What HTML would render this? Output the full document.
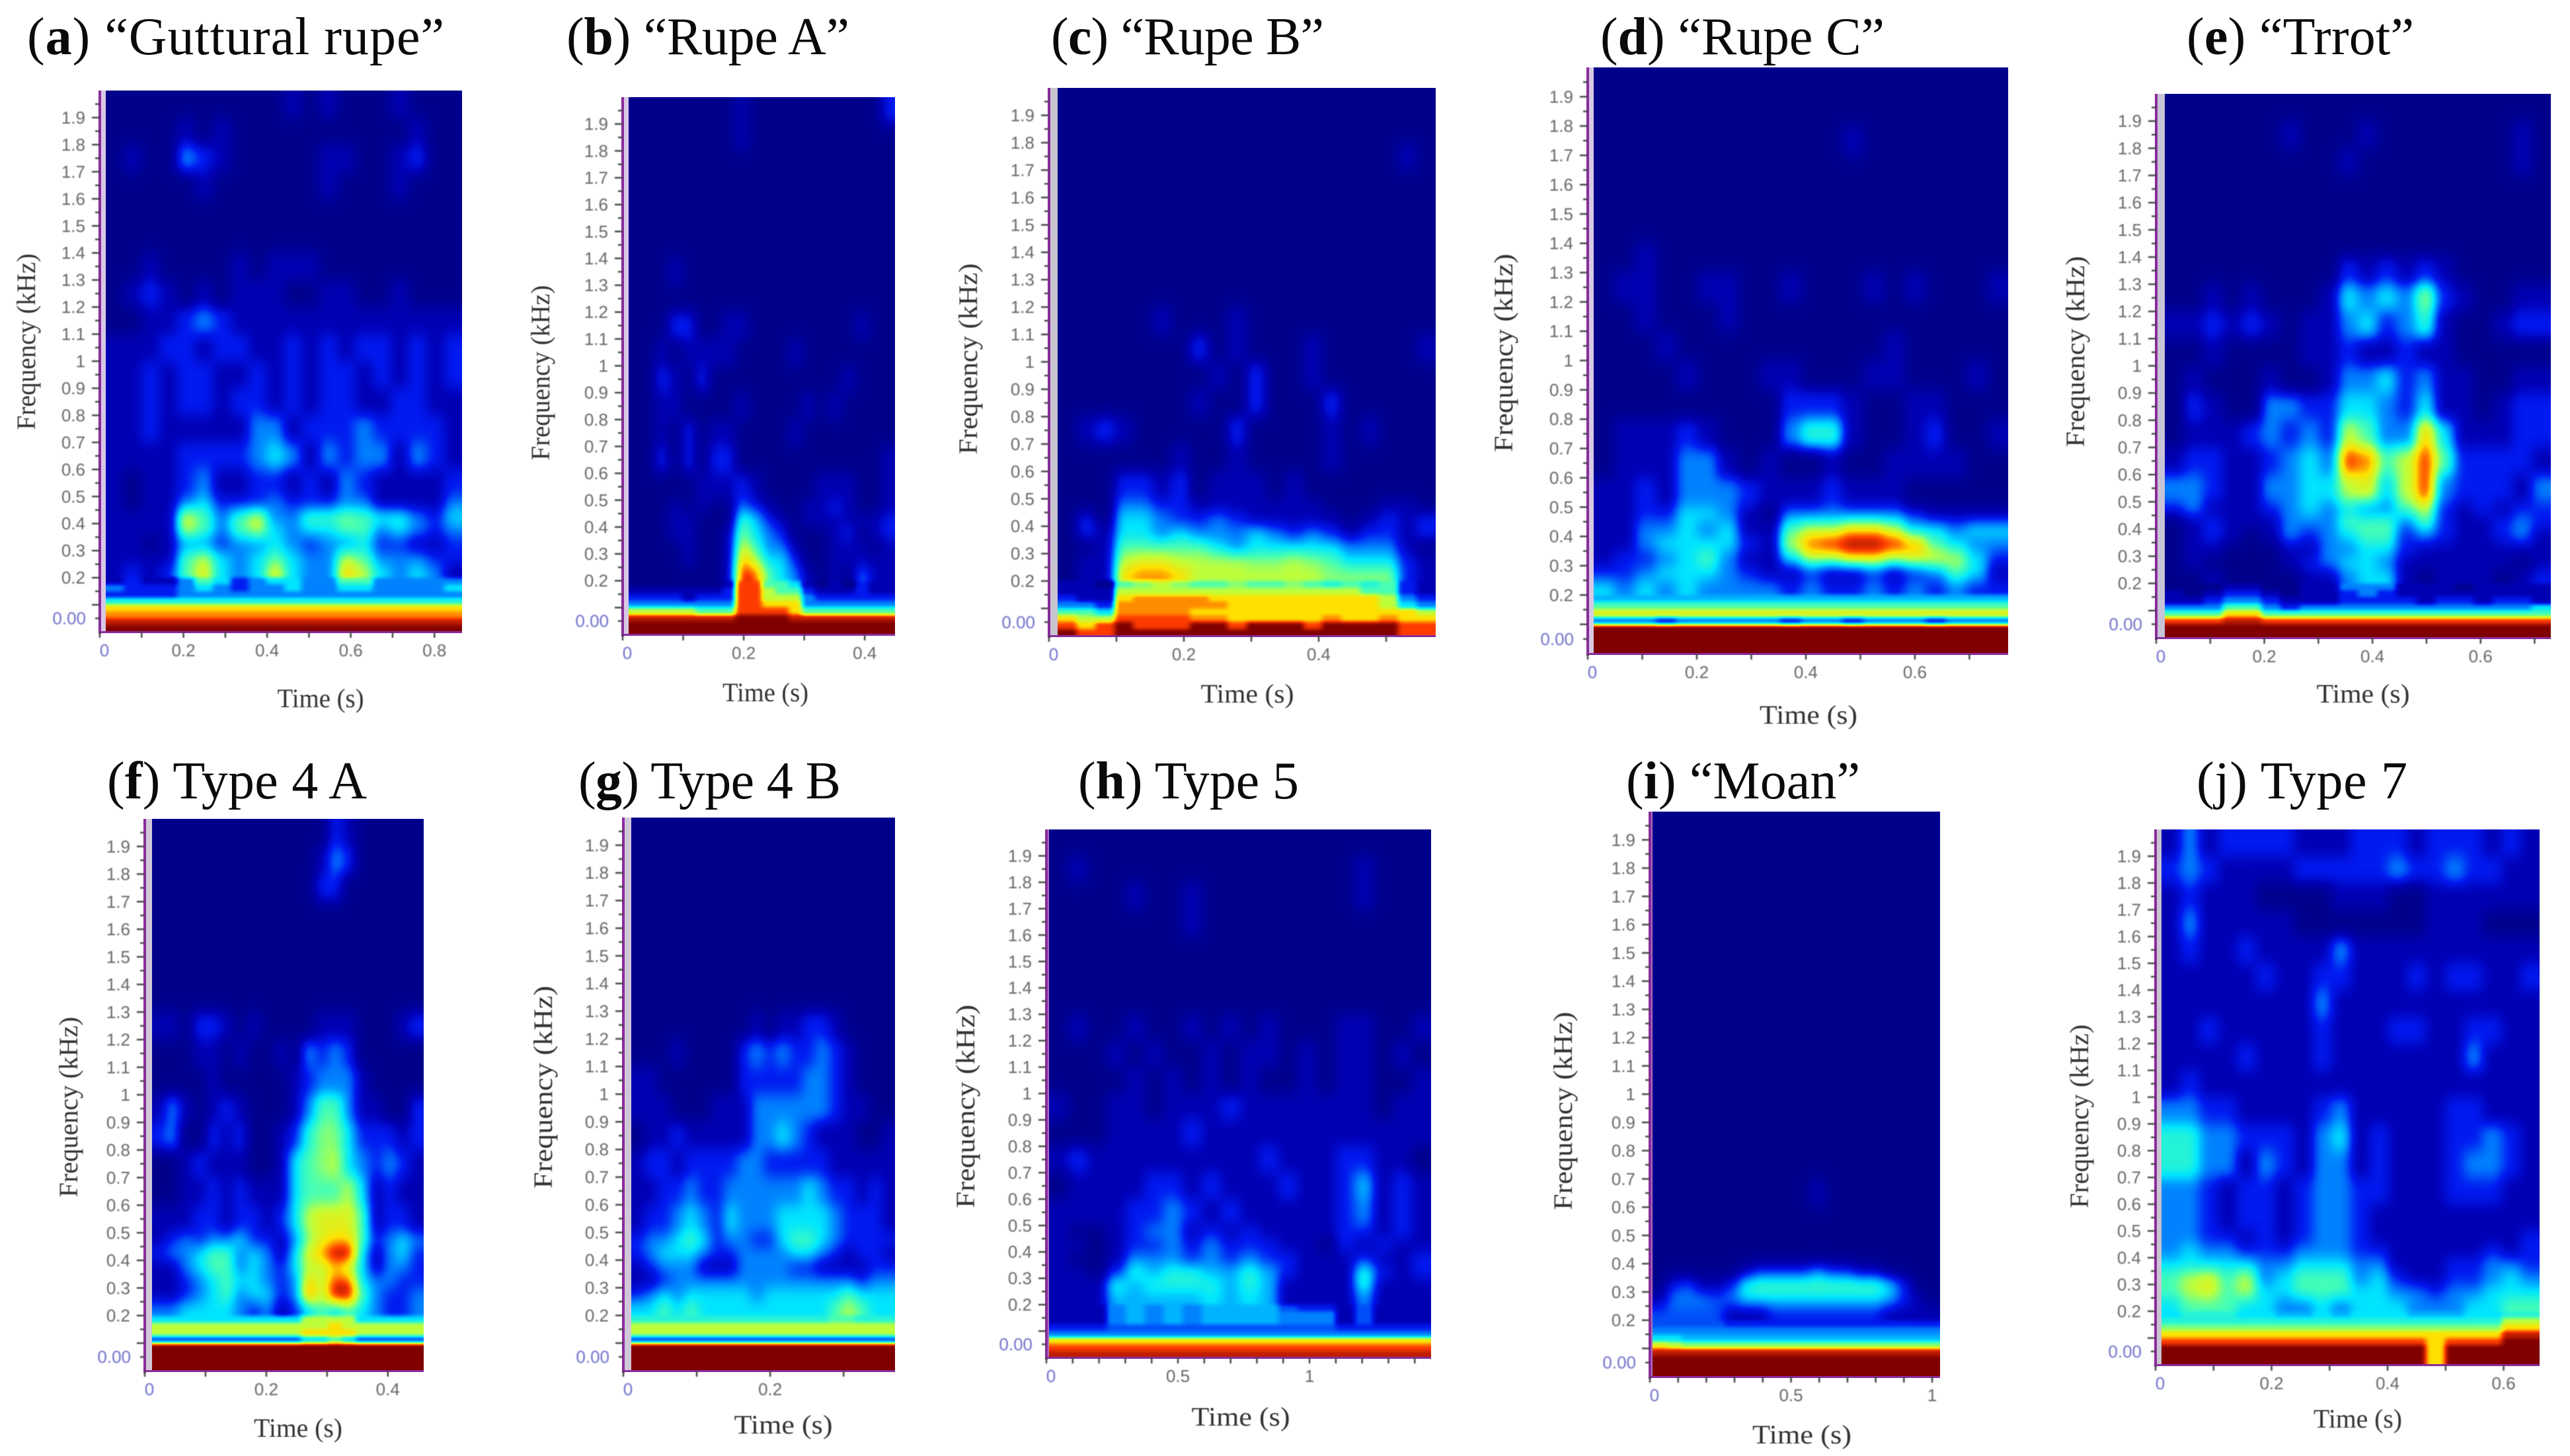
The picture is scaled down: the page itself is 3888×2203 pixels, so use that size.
<!DOCTYPE html>
<html lang="en">
<head>
<meta charset="utf-8">
<title>Spectrograms of call types</title>
<style>
html,body{margin:0;padding:0;background:#fff;}
svg{display:block;}
.ttl{font-family:"Liberation Serif",serif;font-size:80px;fill:#0a0a0a;}
.axt{font-family:"Liberation Serif",serif;font-size:40px;fill:#333;filter:blur(.5px);}
.tkl{font-family:"Liberation Sans",sans-serif;font-size:26px;fill:#666;}
.soft{filter:blur(.7px);}
</style>
</head>
<body>
<svg id="figure" xmlns="http://www.w3.org/2000/svg" width="3888" height="2203" viewBox="0 0 3888 2203">
<defs>
<filter id="coarse-blur" x="-6%" y="-6%" width="112%" height="112%" color-interpolation-filters="sRGB"><feGaussianBlur stdDeviation="8 11"/></filter>
<filter id="jet-map" x="-6%" y="-6%" width="112%" height="112%" color-interpolation-filters="sRGB">
<feGaussianBlur stdDeviation="4 3"/>
<feComponentTransfer id="jet-transfer"><feFuncR id="jet-r" type="table"/><feFuncG id="jet-g" type="table"/><feFuncB id="jet-b" type="table"/></feComponentTransfer>
</filter>
</defs>
<rect width="3888" height="2203" fill="#fff"/>
<g id="plots"></g>

<text class="ttl" x="41" y="82" textLength="631" lengthAdjust="spacing">(<tspan font-weight="700">a</tspan>) “Guttural rupe”</text>
<text class="ttl" x="857" y="82" textLength="428" lengthAdjust="spacing">(<tspan font-weight="700">b</tspan>) “Rupe A”</text>
<text class="ttl" x="1590" y="82" textLength="413" lengthAdjust="spacing">(<tspan font-weight="700">c</tspan>) “Rupe B”</text>
<text class="ttl" x="2421" y="82" textLength="430" lengthAdjust="spacing">(<tspan font-weight="700">d</tspan>) “Rupe C”</text>
<text class="ttl" x="3308" y="82" textLength="344" lengthAdjust="spacing">(<tspan font-weight="700">e</tspan>) “Trrot”</text>
<text class="ttl" x="162" y="1208" textLength="393" lengthAdjust="spacing">(<tspan font-weight="700">f</tspan>) Type 4 A</text>
<text class="ttl" x="875" y="1208" textLength="397" lengthAdjust="spacing">(<tspan font-weight="700">g</tspan>) Type 4 B</text>
<text class="ttl" x="1631" y="1208" textLength="334" lengthAdjust="spacing">(<tspan font-weight="700">h</tspan>) Type 5</text>
<text class="ttl" x="2460" y="1208" textLength="354" lengthAdjust="spacing">(<tspan font-weight="700">i</tspan>) “Moan”</text>
<text class="ttl" x="3323" y="1208" textLength="319" lengthAdjust="spacing">(j) Type 7</text>

<text class="axt" x="485" y="1070" text-anchor="middle" textLength="131" lengthAdjust="spacingAndGlyphs">Time (s)</text>
<text class="axt" x="1158" y="1061" text-anchor="middle" textLength="130" lengthAdjust="spacingAndGlyphs">Time (s)</text>
<text class="axt" x="1887" y="1063" text-anchor="middle" textLength="141" lengthAdjust="spacingAndGlyphs">Time (s)</text>
<text class="axt" x="2736" y="1095" text-anchor="middle" textLength="148" lengthAdjust="spacingAndGlyphs">Time (s)</text>
<text class="axt" x="3575" y="1063" text-anchor="middle" textLength="141" lengthAdjust="spacingAndGlyphs">Time (s)</text>
<text class="axt" x="451" y="2174" text-anchor="middle" textLength="134" lengthAdjust="spacingAndGlyphs">Time (s)</text>
<text class="axt" x="1185" y="2169" text-anchor="middle" textLength="149" lengthAdjust="spacingAndGlyphs">Time (s)</text>
<text class="axt" x="1877" y="2157" text-anchor="middle" textLength="149" lengthAdjust="spacingAndGlyphs">Time (s)</text>
<text class="axt" x="2726" y="2184" text-anchor="middle" textLength="150" lengthAdjust="spacingAndGlyphs">Time (s)</text>
<text class="axt" x="3567" y="2160" text-anchor="middle" textLength="134" lengthAdjust="spacingAndGlyphs">Time (s)</text>

<text class="axt" transform="translate(53 517) rotate(-90)" text-anchor="middle" textLength="267" lengthAdjust="spacingAndGlyphs">Frequency (kHz)</text>
<text class="axt" transform="translate(831 564) rotate(-90)" text-anchor="middle" textLength="265" lengthAdjust="spacingAndGlyphs">Frequency (kHz)</text>
<text class="axt" transform="translate(1478 543) rotate(-90)" text-anchor="middle" textLength="289" lengthAdjust="spacingAndGlyphs">Frequency (kHz)</text>
<text class="axt" transform="translate(2288 534) rotate(-90)" text-anchor="middle" textLength="300" lengthAdjust="spacingAndGlyphs">Frequency (kHz)</text>
<text class="axt" transform="translate(3153 532) rotate(-90)" text-anchor="middle" textLength="289" lengthAdjust="spacingAndGlyphs">Frequency (kHz)</text>
<text class="axt" transform="translate(117 1675) rotate(-90)" text-anchor="middle" textLength="273" lengthAdjust="spacingAndGlyphs">Frequency (kHz)</text>
<text class="axt" transform="translate(835 1645) rotate(-90)" text-anchor="middle" textLength="307" lengthAdjust="spacingAndGlyphs">Frequency (kHz)</text>
<text class="axt" transform="translate(1474 1674) rotate(-90)" text-anchor="middle" textLength="308" lengthAdjust="spacingAndGlyphs">Frequency (kHz)</text>
<text class="axt" transform="translate(2378 1681) rotate(-90)" text-anchor="middle" textLength="300" lengthAdjust="spacingAndGlyphs">Frequency (kHz)</text>
<text class="axt" transform="translate(3159 1689) rotate(-90)" text-anchor="middle" textLength="278" lengthAdjust="spacingAndGlyphs">Frequency (kHz)</text>
</svg>

<script>
// Frequency band edges (kHz) shared by every spectrogram; rows below run low to high frequency.
const freqEdges = [0,.025,.05,.075,.1,.125,.15,.175,.2,.25,.3,.35,.4,.45,.5,.6,.7,.8,.9,1,1.1,1.2,1.3,1.4,1.5,1.6,1.7,1.8,1.9,2];
const freqTickLabels = [.2,.3,.4,.5,.6,.7,.8,.9,1,1.1,1.2,1.3,1.4,1.5,1.6,1.7,1.8,1.9];
const colormapStops = [[0,0,140],[0,0,180],[0,25,240],[0,130,255],[0,230,255],[70,255,180],[190,255,60],[255,225,0],[255,60,0],[128,0,0]];

const timeTicksA = [0,.2,.4,.6,.8];
const timeTicksB = [0,.2,.4];
const timeTicksC = [0,.2,.4];
const timeTicksD = [0,.2,.4,.6];
const timeTicksE = [0,.2,.4,.6];
const timeTicksF = [0,.2,.4];
const timeTicksG = [0,.2];
const timeTicksH = [0,.5,1];
const timeTicksI = [0,.5,1];
const timeTicksJ = [0,.2,.4,.6];

const heatA = [
[9,9,9,9,9,9,9,9,9,9,9,9,9,9,9,9,9,9,9,9],
[8.5,8.5,8.5,8.5,8.5,8.5,8.5,8.5,8.5,8.5,8.5,8.5,8.5,8.5,8.5,8.5,8.5,8.5,8.5,8.5],
[7.5,7.5,7.5,7.5,7.5,7.5,7.5,7.5,7.5,7.5,7.5,7.5,7.5,7.5,7.5,7.5,7.5,7.5,7.5,7.5],
[7,7,7,7,7,7,7,7,7,7,7,7,7,7,7,7,7,7,7,7],
[4.5,4.5,4.5,4.5,4.5,4.5,4.5,4.5,4.5,4.5,4.5,4.5,4.5,4.5,4.5,4.5,4.5,4.5,4.5,4.5],
[2,2,2,2,3,3,3,3,3,3,3,3,3,3,3,3,3,3,3,3],
[3,2,2,2,3,4,3,2,3,3,4,3,3,4,4,3,3,3,3,4],
[1,2,1,1,3,5,4,2,3,4,4,3,3,5,5,3,3,3,3,3],
[1,2,1,2,5,6.5,4,3,4,6.5,4,3,3,7,6,4,3,4,3,1],
[1,1,1,1,5,6,4,3,4,5,4,3,3,6,5,3,3,3,2,2],
[1,1,0,1,3,3,2,3,3,4,3,2,3,3,4,2,2,1,1,2],
[1,1,1,1,6,5,3,5,6,4,3,4,4,5,5,3,4,3,2,3],
[1,1,1,1,6.5,5,3,5,6.5,3,3,5,5,5.5,5,4.5,4.5,3,2,4],
[1,0,1,1,3,4,2,2,2,3,2,2,2,3,3,1,1,1,1,3],
[1,0,1,1,2,3,1,1,2,2,1,2,1,3,2,1,1,1,1,2],
[1,1,1,1,2,2,2,2,3,4,3,1,3,2,3,3,1,3,2,1],
[1,1,2,1,1,1,1,1,3,3,1,2,2,2,3,2,2,2,2,1],
[1,1,2,1,2,2,1,2,2,1,2,1,2,2,1,1,2,2,1,1],
[1,1,2,1,2,2,1,1,2,1,2,1,2,2,1,2,1,2,1,2],
[1,1,1,2,2,1,2,2,1,1,2,1,2,1,2,2,1,2,1,2],
[0,0,1,1,2,3,2,1,1,1,1,1,1,1,1,1,1,1,1,1],
[0,1,2,1,0,1,0,1,1,1,0,0,1,1,0,0,1,0,0,0],
[0,0,1,0,0,0,0,1,0,1,1,1,0,0,0,0,0,0,0,0],
[0,0,0,0,0,0,0,0,0,0,0,0,0,0,0,0,0,0,0,0],
[0,0,0,0,0,0,0,0,0,0,0,0,0,0,0,0,0,0,0,0],
[0,0,0,0,0,1,0,0,0,0,0,0,1,0,0,0,1,0,0,0],
[0,1,0,0,3,2,1,0,0,0,0,0,1,1,0,0,1,2,0,0],
[0,0,0,0,1,0,1,0,0,0,0,0,0,0,0,0,0,1,0,0],
[0,0,0,0,0,0,0,0,0,0,1,0,1,0,0,0,1,0,0,0]
];

const heatB = [
[9,9,9,9,9,9,9,9,9,9,9,9,9,9,9,9,9,9,9,9],
[9,9,9,9,9,9,9,9,9,9,9,9,9,9,9,9,9,9,9,9],
[8.5,8.5,8.5,8.5,8.5,8.5,8.5,8.5,9,9,9,9,8.5,8.5,8.5,8.5,8.5,8.5,8.5,8.5],
[6,6,6,6,6,5,5,5,8,8,8,8,7,5,5,5,5,5,5,5],
[3,3,3,3,3,3,3,3,8,8,7,7,7,3,3,3,3,3,3,3],
[2,2,2,2,1,2,2,2,8,8,6,6,6,3,2,2,2,2,2,2],
[1,1,1,1,1,1,1,2,8,8,6,5,5,2,1,1,1,2,1,1],
[0,0,0,0,0,0,0,1,8,8,5,5,4,1,0,1,0,2,1,1],
[0,0,0,0,0,0,0,1,8.5,8,5,4,3,1,0,1,0,3,1,1],
[0,0,0,0,1,0,0,1,7.5,6,4,4,2,0,0,1,1,1,1,1],
[0,0,0,0,1,0,0,1,6.5,5,3,3,1,0,0,1,1,1,0,1],
[0,0,0,1,1,0,0,1,5.5,4,3,2,0,0,0,1,2,0,1,2],
[0,0,0,1,1,0,0,0,5,4,2,1,0,1,1,1,1,1,1,2],
[0,0,0,1,0,1,0,0,3,2,1,0,0,1,1,2,1,0,0,1],
[0,0,0,0,0,1,1,1,2,1,0,0,0,0,1,1,1,0,0,1],
[0,0,2,0,2,0,2,2,0,0,0,0,0,0,0,0,0,0,0,1],
[0,0,1,0,2,0,1,1,0,0,0,0,1,0,0,0,0,0,0,0],
[0,0,1,1,0,0,0,0,1,0,0,0,0,1,0,1,0,0,0,0],
[0,0,2,1,0,2,0,0,0,0,0,0,0,0,0,0,1,0,0,0],
[0,0,1,0,1,1,1,1,0,0,0,0,1,0,0,0,0,0,0,0],
[0,0,0,2,2,0,0,1,1,0,0,0,0,0,0,0,0,1,0,0],
[0,0,0,0,0,0,0,0,0,0,0,0,0,0,0,0,0,0,0,0],
[0,0,0,1,0,0,0,0,0,0,0,0,0,0,0,0,0,0,0,0],
[0,0,0,0,0,0,0,0,0,0,0,0,0,0,0,0,0,0,0,0],
[0,0,0,0,0,0,0,0,0,0,0,0,0,0,0,0,0,0,0,0],
[0,0,0,0,0,0,0,0,0,0,0,0,0,0,0,0,0,0,0,0],
[0,0,0,0,0,0,0,0,0,0,0,0,0,0,0,0,0,0,0,0],
[0,0,0,0,0,0,0,0,1,0,0,0,0,0,0,0,0,0,0,0],
[0,0,0,0,0,0,0,0,1,0,0,0,0,0,0,0,0,0,0,2]
];

const heatC = [
[9,8,8,9,9,9,9,9,9,9,9,9,9,9,9,9,9,9,8,8],
[8,7,8,9,8,8,8,9,9,8,9,9,9,8,9,9,9,9,8,8],
[7,6,6,8,8,8,8,7.5,7.5,7,7,7,7,7,7.5,7,7,7.5,7,7],
[5,5,4,7.5,7.5,7.5,7.5,7,7,7,7,7,7,7,7,7,7,7,7,6],
[3,3,2,7.5,7.5,7.5,7.5,7.5,7.5,7,7,7,7,7,7,7,7,6,4,3],
[2,1,1,7,7.5,7.5,7.5,7.5,7,7,7,7,7,7,7,7,7,6,3,2],
[1,1,1,6,6,6,6,6,6,6,6,6,6,6,6,6,5,5,2,1],
[1,1,0,5,5.5,6,5.5,5,5,5.5,5,5,5.5,5,4.5,5,4.5,5,2,1],
[0,1,1,7,7.5,7.5,7,6,6,6,6,6,6,6,5.5,5.5,5.5,5.5,2,1],
[0,1,1,6,6.5,6.5,6,6,6,6,5.5,5.5,6,5.5,5,4,4,4,2,1],
[0,0,1,5,5,5,5,5,4,3,4,4,4,4,4,3,3,3,1,0],
[0,2,1,4,4,3,4,3,3,3,4,3,2,3,2,1,2,2,1,2],
[0,2,0,4,4,3,2,2,3,2,1,1,1,1,1,0,1,2,1,2],
[0,0,0,3,3,2,2,1,1,1,1,1,1,1,0,0,0,1,1,0],
[0,0,0,2,2,1,2,0,1,1,1,0,1,0,0,0,0,0,0,0],
[0,0,0,0,0,0,1,0,0,1,0,0,0,0,1,0,0,0,0,0],
[0,1,2,1,0,0,0,0,0,2,0,0,0,0,1,0,1,0,0,0],
[0,0,0,0,0,0,0,1,0,0,2,0,0,0,2,0,0,0,0,0],
[0,0,0,0,0,0,0,0,1,0,2,0,0,1,0,0,0,0,0,0],
[0,0,0,0,0,0,0,2,0,1,0,0,0,1,0,0,0,0,0,1],
[0,0,0,0,0,1,0,0,0,1,0,0,0,0,0,0,0,0,0,0],
[],[],[],[],[],
[0,0,0,0,0,0,0,0,0,0,0,0,0,0,0,0,0,0,1,0]
];

const heatD = [
[9,9,9,9,9,9,9,9,9,9,9,9,9,9,9,9,9,9,9,9],
[9,9,9,9,9,9,9,9,9,9,9,9,9,9,9,9,9,9,9,9],
[9,9,9,9,9,9,9,9,9,9,9,9,9,9,9,9,9,9,9,9],
[9,9,9,9,9,9,9,9,9,9,9,9,9,9,9,9,9,9,9,9],
[3,3,3,2,3,3,3,3,3,2,3,3,2,3,3,3,2,3,3,3],
[6.5,6.5,6.5,6.5,6.5,6.5,6.5,6.5,6.5,6.5,6.5,6.5,6.5,6.5,6.5,6.5,6.5,6.5,6.5,6.5],
[5,5,5,5,5,5,5,5,5,5,5,5,5,5,5,5,5,5,5,5],
[3.5,3.5,3.5,3.5,3.5,3.5,3.5,3.5,3.5,3.5,3.5,3.5,3.5,3.5,3.5,3.5,3.5,3.5,3.5,3.5],
[4,3,4,3,4,3,3,3,3,2,3,2,2,3,2,3,2,3,2,2],
[2,2,3,4,4,4,3,2,1,1,2,1,1,2,1,2,3,5,4,1],
[1,2,2,3,4,5,3,1,1,4,6,6,7,7,6,6.5,6.5,6,4,2],
[1,1,3,4,4,4,4,2,1,6,8,8.5,9,9,8.5,7.5,5,4,3,3],
[1,1,3,3,4,3,4,1,1,5,6,6,7,7,6,4,4,3,4,4],
[1,1,2,2,4,4,3,1,0,3,3,3,3,3,3,2,1,1,1,1],
[1,1,2,1,3,3,3,2,1,1,1,2,1,1,1,0,0,0,0,0],
[0,1,1,1,3,3,1,0,1,0,0,1,0,0,1,1,1,1,0,0],
[0,1,1,1,2,1,0,0,0,3,4.5,4.5,1,0,0,1,2,0,0,1],
[0,0,0,0,0,0,0,0,0,2,2,2,1,0,0,1,1,0,0,0],
[0,0,0,0,1,0,0,0,1,1,0,0,0,1,1,0,0,0,1,0],
[0,0,0,1,0,0,0,0,0,0,0,0,0,0,1,0,0,0,0,0],
[0,0,1,0,0,0,1,0,0,0,0,0,0,0,0,0,0,0,0,0],
[0,1,1,0,0,1,1,0,0,1,0,0,0,1,0,1,0,0,0,1],
[0,0,1,0,0,0,0,0,0,0,0,0,0,0,0,0,0,0,0,0],
[],[],[],
[0,0,0,0,0,0,0,0,0,0,0,0,1,0,0,0,0,0,0,0]
];

const heatE = [
[9,9,9,9,9,9,9,9,9,9,9,9,9,9,9,9,9,9,9,9],
[9,9,9,9,9,9,9,9,9,9,9,9,9,9,9,9,9,9,9,9],
[8,8,8,8.5,8.5,8,8,8,8,8,8,8,8,8,8,8,8,8,8,8],
[5,5,5,7,7,5,5,5,5,5,5,5,5,5,5,5,5,5,5,5],
[3,3,3,5,5,3,2,3,3,3,3,3,3,3,3,3,3,3,3,4],
[1,1,2,3,3,2,1,1,1,2,2,2,2,1,2,2,1,2,2,1],
[1,0,1,2,2,1,0,1,1,2,3,2,1,1,1,1,1,1,1,1],
[0,0,0,1,1,0,0,1,1,3,3,3,1,1,1,0,1,1,1,1],
[0,0,1,0,0,0,0,1,1,3,4,4,1,0,1,1,1,0,1,2],
[0,1,0,0,0,0,1,2,3,4,4,3,1,1,1,1,1,1,0,1],
[0,1,1,0,0,0,1,1,3,3,4,4,2,1,1,1,1,1,1,1],
[0,1,2,1,0,1,3,2,3,4,5,5,2,3,2,1,1,2,3,1],
[0,1,2,1,1,1,3,3,3,5,5,5,3,5,2,1,1,2,3,2],
[2,3,1,1,1,2,3,4,3,4,3,3,5,6,2,1,2,1,2,2],
[3,3,2,1,1,3,3,4,4,6,6.5,4,6,8,3,2,2,2,1,3],
[1,2,2,1,1,2,3,4,3,8,7.5,5,6,8,5,2,2,2,2,1],
[0,1,1,1,2,3,2,3,2,6,5,3,3,7,4,1,1,1,2,2],
[0,2,1,0,0,3,3,2,2,4,4,3,2,4,1,1,0,1,2,2],
[0,1,0,0,0,1,0,0,1,3,3,4,2,3,1,1,0,0,1,1],
[0,0,1,0,0,0,0,1,1,2,1,1,2,1,1,0,0,0,0,0],
[1,1,2,1,2,1,0,1,1,3,4,2,3,4.5,1,0,0,1,2,2],
[0,0,1,0,1,0,0,0,1,4,3,4,3,5.5,2,1,0,0,1,1],
[0,0,0,0,0,0,0,0,0,2,1,2,1,2,1,0,0,0,0,0],
[],[],[],
[0,0,0,0,0,0,0,0,0,1,0,0,0,0,0,0,0,0,1,0],
[0,0,0,0,0,0,1,0,0,0,1,0,0,0,0,0,0,0,1,0]
];

const heatF = [
[9,9,9,9,9,9,9,9,9,9,9,9,9,9,9,9,9,9,9,9],
[9,9,9,9,9,9,9,9,9,9,9,9,9,9,9,9,9,9,9,9],
[9,9,9,9,9,9,9,9,9,9,9,9,9,9,9,9,9,9,9,9],
[9,9,9,9,9,9,9,9,9,9,9,9,9,9,9,9,9,9,9,9],
[2.5,2.5,2.5,2.5,2.5,2.5,2.5,2.5,2.5,2.5,2.5,4,4,5,4,2.5,2.5,2.5,2.5,2.5],
[6,6,6,6,6,6,6,6,6,6,6,7,7,7,7,6,6,6,6,6],
[6,6,6,6,6,6,6,6,6,6,6,6,6,7,6,6,6,6,6,6],
[4,4,4,4,4,4,4,4,4,4,4,6,6,6,6,4,4,4,4,4],
[3,3,4,4,4,4,3,2,3,1,2,4,5,4,5,4,3,2,2,3],
[1,1,2,3,4,5,3,4,4,2,3,8,6,9,9,5,3,2,2,3],
[1,1,2,3,4,5,4,4,3,2,3,7,6,8,8,4,3,3,2,2],
[1,1,3,4,5,5,3,4,3,2,4,6,6,7,6,4,1,3,3,2],
[2,3,3,4,5,5,3,4,3,1,4,6.5,7.5,9,9,4,1,3,4,2],
[1,2,3,2,3,3,4,2,2,1,3,5.5,6.5,7,7,5,2,3,4,3],
[1,1,1,2,2,1,2,2,1,2,4,6,6.5,6.5,6.5,5,1,2,2,1],
[0,0,1,1,2,1,2,1,1,1,4,5,5,5,6,4,1,2,1,1],
[0,0,1,2,1,1,1,0,0,1,4,5,5.5,6,4,3,2,3,2,1],
[2,3,0,0,2,1,2,0,0,1,2,4.5,5.5,5.5,4,2,2,2,1,2],
[1,3,1,0,1,2,1,0,0,0,1,3,5,5,3,1,1,0,0,2],
[0,0,0,0,1,0,0,0,0,0,1,2,3,3,3,1,0,0,0,0],
[0,0,0,1,1,0,1,0,0,1,0,3,2,3,2,0,0,0,0,0],
[1,1,0,2,2,1,0,1,0,0,0,0,1,1,1,0,0,0,1,2],
[],[],[],[],
[0,0,0,0,0,0,0,0,0,0,0,0,2,2,0,0,0,0,0,0],
[0,0,0,0,0,0,0,0,0,0,0,0,1,3,2,0,0,0,0,0],
[0,0,0,0,0,0,0,0,0,0,0,0,0,2,1,0,0,0,0,0]
];

const heatG = [
[9,9,9,9,9,9,9,9,9,9,9,9,9,9,9,9,9,9,9,9],
[9,9,9,9,9,9,9,9,9,9,9,9,9,9,9,9,9,9,9,9],
[9,9,9,9,9,9,9,9,9,9,9,9,9,9,9,9,9,9,9,9],
[9,9,9,9,9,9,9,9,9,9,9,9,9,9,9,9,9,9,9,9],
[2.5,2.5,2.5,2.5,2.5,2.5,2.5,2.5,2.5,2.5,2.5,2.5,2.5,2.5,2.5,2.5,2.5,2.5,2.5,2.5],
[6,6,6,6,6,6,6,6,6,6,6,6,6,6,6,6,6,6,6,6],
[6,6,6,6,6,6,6,6,6,6,6,6,6,6,6,6,6,6,6,6],
[4.5,4.5,4.5,4.5,4.5,4.5,4.5,4.5,4.5,4.5,4.5,4.5,4.5,4.5,4.5,5,5,4.5,4.5,4.5],
[4,4,5,4,5,4,4,4,4,4,4,4,4,4,4,5,6,5,4,4],
[2,3,4,3,4,4,4,4,4,3,4,4,4,4,4,4,5,4,4,4],
[1,1,2,3,3,3,3,3,3,3,3,3,3,3,3,3,3,2,3,3],
[1,2,3,3,3,1,1,1,3,3,3,3,2,2,1,1,1,1,2,2],
[2,3,4,4,4,3,2,2,3,3,3,3,4,4,3,2,1,2,2,1],
[2,3,3,4,5,4,2,3,3,2,2,4,5,5,4,3,2,2,2,2],
[1,2,2,3,4,3,2,4,3,3,3,4,4,4,4,3,2,2,2,1],
[1,1,2,2,3,2,2,3,3,3,3,3,3,4,3,2,2,1,2,1],
[1,2,2,1,2,2,2,2,3,3,2,2,2,2,2,1,1,1,1,1],
[0,1,1,2,1,1,1,1,1,3,3,4,3,2,1,1,1,0,0,1],
[1,1,1,0,0,0,1,1,1,3,3,3,3,3,3,2,1,1,0,0],
[1,1,0,0,0,0,0,0,2,2,2,2,2,3,3,2,1,0,0,0],
[0,0,0,1,0,0,0,0,2,3,2,3,2,2,3,2,1,0,0,0],
[0,0,0,0,0,0,0,0,0,1,0,1,1,2,2,1,0,0,0,0]
];

const heatH = [
[8.5,8.5,8.5,8.5,8.5,8.5,8.5,8.5,8.5,8.5,8.5,8.5,8.5,8.5,8.5,8.5,8.5,8.5,8.5,8.5],
[8,8,8,8,8,8,8,8,8,8,8,8,8,8,8,8,8,8,8,8],
[7,7,7,7,7,7,7,7,7,7,7,7,7,7,7,7,7,7,7,7],
[3,3,3,3,3,3,3,3,3,3,3,3,3,3,3,3,3,3,3,3],
[2,2,2,2.5,2.5,2.5,2.5,2.5,2.5,2.5,2.5,2.5,2.5,2.5,2.5,2,2,2,2,2],
[1,1,1,3,3.5,3,3.5,3,3.5,3.5,3.5,3.5,3,3,3,1,2.5,1,1,1],
[1,1,1,3,3.5,3,3.5,3,3.5,3.5,3.5,3.5,3,3,3,1,2.5,1,1,1],
[1,1,1,3,3.5,3,3.5,3,3.5,3.5,3.5,3.5,2.5,2,2,1,2.5,1,1,1],
[1,1,1,3.5,3.5,3.5,3.5,3.5,4,3.5,4,3.5,1,1,1,1,3,1,1,1],
[1,1,1,4.5,3.5,4.5,4.5,4.5,4.5,3.5,4.5,3.5,1,1,1,1,4.5,1,1,1],
[1,1,0,2,4.5,3.5,4.5,4.5,3.5,3.5,4.5,3.5,2,1,1,1,4.5,2,1,2],
[1,0,0,1,3,3,3,2,3,2,3,2,2,1,1,1,2,1,1,2],
[1,1,0,1,2,2,3,2,3,2,2,2,1,1,0,2,1,2,1,1],
[1,0,0,1,2,3,3,1,2,1,2,1,1,1,1,2,2,1,2,1],
[1,1,1,1,2,2,3,2,1,2,1,1,1,1,1,2,3,1,2,1],
[0,1,1,1,1,2,2,1,2,1,1,1,2,1,1,2,3.5,1,2,1],
[1,2,1,1,1,1,1,1,1,1,1,2,1,1,1,2,2,1,1,0],
[0,0,0,1,1,1,1,2,1,1,1,1,1,1,1,1,1,1,1,1],
[1,0,0,1,1,0,1,1,1,2,1,1,1,1,1,1,1,0,1,1],
[0,0,0,0,1,0,1,0,1,0,1,0,0,1,0,1,1,0,0,1],
[0,0,0,1,0,1,0,0,1,0,1,1,0,1,0,1,1,0,1,0],
[0,1,0,0,1,0,0,1,0,1,0,1,0,0,0,1,1,0,0,1],
[],[],[],
[0,0,0,0,0,0,0,1,0,0,0,0,0,0,0,0,0,0,0,0],
[0,0,0,0,1,0,0,1,0,0,0,0,0,0,0,0,1,0,0,0],
[0,1,0,0,0,0,0,0,0,0,0,0,0,0,0,0,1,0,0,0]
];

const heatI = [
[9,9,9,9,9,9,9,9,9,9,9,9,9,9,9,9,9,9,9,9],
[9,9,9,9,9,9,9,9,9,9,9,9,9,9,9,9,9,9,9,9],
[9,9,9,9,9,9,9,9,9,9,9,9,9,9,9,9,9,9,9,9],
[8.5,8.5,8.5,8.5,8.5,8.5,8.5,8.5,8.5,8.5,8.5,8.5,8.5,8.5,8.5,8.5,8.5,8.5,8.5,8.5],
[6.5,6,5.5,5.5,5.5,5.5,5.5,5.5,5.5,5.5,5.5,5.5,5.5,5.5,5.5,5.5,5.5,5.5,5.5,5.5],
[4,4,3.5,3.5,3.5,3.5,3.5,3.5,3.5,3.5,3.5,3.5,3.5,3.5,3.5,3.5,3.5,3.5,3.5,3.5],
[3,3,3,3,3,3,3,3,3,3,3,3,3,3,3,3,3,3,3,3],
[2.5,2.5,2.5,2.5,2.5,2,2,2,2,2,2,2,2,2,2,2,2,2,2,2],
[2.5,2.5,2.5,2.5,2.5,1,1,1,2,2,2,2,2,2,2,2,1,1,1,1],
[1,3,3,3,2.5,3,4,4,4,4,4,4,4,4,4,4,3.5,2,1,0],
[0,2,2.5,1,1,2,4.5,5,5,5,5,5,5,5,5,5,4,2,0,0],
[0,0,0,0,0,0,1,2,2,2,2,3,2,2,1,1,0,0,0,0],
[],[],[],
[0,0,0,0,0,0,0,0,0,0,0,1,0,0,0,0,0,0,0,0]
];

const heatJ = [
[9,9,9,9,9,9,9,9,9,9,9,9,9,9,7,9,9,9,9,9],
[9,9,9,9,9,9,9,9,9,9,9,9,9,9,7,9,9,9,9,9],
[9,9,9,9,9,9,9,9,9,9,9,9,9,9,7,9,9,9,9,9],
[8,8,8,8,8,8,8,8,8,8,8,8,8,8,7,8,8,8,9,9],
[7,7,7,7,7,7,7,7,7,7,7,7,7,7,7,7,7,7,8.5,8.5],
[5.5,5.5,5.5,5.5,5.5,5.5,5.5,5.5,5.5,5.5,5.5,5.5,5.5,5.5,5.5,5.5,5.5,5.5,7,7],
[4.5,4.5,4.5,4.5,4.5,4.5,4.5,4.5,4.5,4.5,4.5,4.5,4.5,4.5,4.5,4.5,4.5,4.5,6,6],
[4,4.5,4.5,4.5,4,4,3.5,3.5,4,3.5,4,4,4,3.5,3.5,3.5,4,4,4.5,4.5],
[4,5,5,5,4,4,3,3,4,3,4,4,4,3,3,3,4,4,5,5],
[5,6,6.5,5,6,4,4,5,5,5,4,4,3,3,2,3,3,4,4,4],
[5,6,6.5,5,6,3,4,5,5,5,3,4,2,1,1,2,2,3,4,3],
[4,4,4,4,4,3,3,4,4,4,3,3,1,1,1,2,2,3,3,2],
[3,4,3,3,2,2,2,3,3,3,2,2,1,1,1,1,1,2,1,2],
[3,3,2,2,1,2,1,2,3,3,2,1,1,1,1,1,1,1,1,2],
[3,3,2,1,2,2,1,2,3,3,2,1,1,1,1,1,1,1,1,1],
[3,3,2,1,2,2,1,2,3,3,2,2,1,1,1,2,2,2,1,1],
[4.5,4.5,3,3,1,3,2,1,3,3,1,2,1,1,1,2,3,3,2,1],
[4.5,4.5,3,3,2,2,2,1,3,4,1,2,1,1,1,2,2,3,2,1],
[3,3,2,2,1,1,1,1,2,3,1,1,1,1,1,2,2,1,1,1],
[1,2,1,1,1,1,1,1,1,1,1,1,1,1,1,1,1,1,1,1],
[1,1,1,1,2,1,1,1,2,1,1,1,1,1,1,1,3,1,1,1],
[1,1,2,1,1,1,1,1,2,1,1,1,2,2,1,1,2,2,1,1],
[1,1,1,1,1,1,1,1,3,1,1,1,1,1,1,1,1,1,1,1],
[1,1,1,1,1,2,1,1,2,2,1,1,1,2,1,2,2,1,1,2],
[1,2,1,1,2,1,1,1,1,3,1,1,1,1,1,1,1,1,1,1],
[1,3,1,1,1,1,1,0,0,0,0,0,0,0,1,1,1,0,0,0],
[1,2,1,1,1,0,0,0,0,1,1,1,0,0,1,1,1,1,1,1],
[2,3,2,1,1,1,1,2,2,2,2,2,3,2,2,3,2,2,1,1],
[1,3,1,2,2,2,2,1,1,1,2,2,2,1,2,2,2,1,2,1]
];

const SVG_NS = 'http://www.w3.org/2000/svg';
const FINE_ROW_COUNT = 8;
const EDGE_BLEED = 60;
const VALUE_MAX = 9;

const panelFrames = [
  {id:'a',axisX:151,plotLeft:160,right:699,top:137,bottom:956,tMax:.866,ticks:timeTicksA,heat:heatA,band:'#d8c8e4'},
  {id:'b',axisX:942,plotLeft:951,right:1354,top:147,bottom:960,tMax:.45,ticks:timeTicksB,heat:heatB,band:'#d8c8e4'},
  {id:'c',axisX:1587,plotLeft:1600,right:2172,top:133,bottom:962,tMax:.5735,ticks:timeTicksC,heat:heatC,band:'#c8c4d0'},
  {id:'d',axisX:2402,plotLeft:2411,right:3038,top:102,bottom:989,tMax:.771,ticks:timeTicksD,heat:heatD,band:'#d8c8e4'},
  {id:'e',axisX:3262,plotLeft:3275,right:3859,top:142,bottom:965,tMax:.73,ticks:timeTicksE,heat:heatE,band:'#c8c4d8'},
  {id:'f',axisX:219,plotLeft:230,right:641,top:1239,bottom:2074,tMax:.459,ticks:timeTicksF,heat:heatF,band:'#d0c8d8'},
  {id:'g',axisX:943,plotLeft:955,right:1354,top:1237,bottom:2074,tMax:.37,ticks:timeTicksG,heat:heatG,band:'#d0c8d8'},
  {id:'h',axisX:1583,plotLeft:1587,right:2165,top:1255,bottom:2054,tMax:1.462,ticks:timeTicksH,heat:heatH,band:'#b070c0'},
  {id:'i',axisX:2496,plotLeft:2500,right:2935,top:1228,bottom:2083,tMax:1.028,ticks:timeTicksI,heat:heatI,band:'#b070c0'},
  {id:'j',axisX:3261,plotLeft:3270,right:3842,top:1255,bottom:2065,tMax:.662,ticks:timeTicksJ,heat:heatJ,band:'#c8c4d0'}
];

function svgEl(tag, attrs, parent) {
  const el = document.createElementNS(SVG_NS, tag);
  for (const key in attrs) el.setAttribute(key, attrs[key]);
  if (parent) parent.appendChild(el);
  return el;
}

['r','g','b'].forEach(function (channel, index) {
  document.getElementById('jet-' + channel).setAttribute('tableValues',
    colormapStops.map(function (stop) { return (stop[index] / 255).toFixed(3); }).join(' '));
});

function drawHeatmap(frame, group, yScale) {
  const clipId = 'clip-' + frame.id;
  const defs = document.querySelector('defs');
  const clip = svgEl('clipPath', {id: clipId}, defs);
  svgEl('rect', {x: frame.plotLeft, y: frame.top, width: frame.right - frame.plotLeft, height: frame.bottom - frame.top}, clip);

  const wrap = svgEl('g', {'clip-path': 'url(#' + clipId + ')'}, group);
  
  
  const mapped = svgEl('g', {filter: 'url(#jet-map)'}, wrap);
  const coarse = svgEl('g', {filter: 'url(#coarse-blur)', 'shape-rendering': 'crispEdges'}, mapped);
  svgEl('rect', {x: frame.plotLeft - EDGE_BLEED, y: frame.top - EDGE_BLEED, width: frame.right - frame.plotLeft + 2 * EDGE_BLEED, height: frame.bottom - frame.top + 2 * EDGE_BLEED, fill: '#000'}, coarse);
  const fine = svgEl('g', {'shape-rendering': 'crispEdges'}, mapped);

  const columnCount = 20;
  const cellX = function (column) {
    return Math.round(frame.plotLeft + (column / columnCount) * (frame.right - frame.plotLeft));
  };
  const rowCount = freqEdges.length - 1;
  for (let row = 0; row < rowCount; row++) {
    const values = frame.heat[row] || [];
    const isFine = row < FINE_ROW_COUNT;
    let y1 = Math.round(yScale(freqEdges[row]));
    let y2 = Math.round(yScale(freqEdges[row + 1]));
    if (row === 0 || row === FINE_ROW_COUNT) y1 = frame.bottom + EDGE_BLEED;
    if (row === rowCount - 1) y2 = frame.top - EDGE_BLEED;
    for (let column = 0; column < columnCount; column++) {
      const value = values[column] || 0;
      if (!isFine && value === 0) continue;
      let x1 = cellX(column);
      let x2 = cellX(column + 1);
      if (column === 0) x1 -= EDGE_BLEED;
      if (column === columnCount - 1) x2 += EDGE_BLEED;
      const gray = Math.round(255 * value / VALUE_MAX);
      const cell = svgEl('rect', {x: x1, y: y2, width: x2 - x1, height: y1 - y2, fill: 'rgb(' + gray + ',' + gray + ',' + gray + ')'}, isFine ? fine : coarse);
      
      
    }
  }
}

function drawAxes(frame, group, xScale, yScale) {
  const purple = '#8a2c9c';
  const band = svgEl('rect', {x: frame.axisX, y: frame.top, width: frame.plotLeft - frame.axisX, height: frame.bottom - frame.top, fill: frame.band}, group);
  
  
  const yAxis = svgEl('rect', {x: frame.axisX - 2, y: frame.top, width: 4, height: frame.bottom - frame.top + 3, fill: purple}, group);
  
  
  const xAxis = svgEl('rect', {x: frame.axisX - 2, y: frame.bottom - 1, width: frame.right - frame.axisX + 2, height: 3, fill: purple}, group);
  
  

  const soft = svgEl('g', {'class': 'soft'}, group);
  
  

  // Frequency ticks: long every 0.1 kHz, short halfway between.
  for (let step = 1; step <= 39; step++) {
    const y = yScale(step * 0.05);
    const isMajor = step % 2 === 0;
    const tick = svgEl('line', {x1: frame.axisX - (isMajor ? 12 : 7), x2: frame.axisX, y1: y, y2: y, stroke: '#444', 'stroke-width': 2.5}, soft);
    
    
  }
  freqTickLabels.forEach(function (value) {
    const label = svgEl('text', {'class': 'tkl', x: frame.axisX - 22, y: yScale(value) + 9, 'text-anchor': 'end'}, soft);
    label.textContent = String(value);
    
    
  });
  const zero = svgEl('text', {'class': 'tkl', x: frame.axisX - 21, y: yScale(0.05) + 9, 'text-anchor': 'end', style: 'fill:#6f6fcc'}, soft);
  zero.textContent = '0.00';
  
  

  // Time ticks: one every 0.1 s, labels from the panel's tick array.
  for (let step = 0; step * 0.1 <= frame.tMax; step++) {
    const x = xScale(step * 0.1);
    const tick = svgEl('line', {x1: x, x2: x, y1: frame.bottom, y2: frame.bottom + 9, stroke: '#444', 'stroke-width': 2.5}, soft);
    
    
  }
  frame.ticks.forEach(function (value) {
    const label = svgEl('text', {'class': 'tkl', x: xScale(value) + (value === 0 ? 7 : 0), y: frame.bottom + 37, 'text-anchor': 'middle'}, soft);
    if (value === 0) label.setAttribute('style', 'fill:#6f6fcc');
    label.textContent = String(value);
    
    
  });
}

const plotsRoot = document.getElementById('plots');
panelFrames.forEach(function (frame) {
  const xScale = function (seconds) {
    return frame.axisX + (seconds / frame.tMax) * (frame.right - frame.axisX);
  };
  const yScale = function (kHz) {
    return frame.bottom - (kHz / 2) * (frame.bottom - frame.top);
  };
  const group = svgEl('g', {}, plotsRoot);
  
  
  drawHeatmap(frame, group, yScale);
  drawAxes(frame, group, xScale, yScale);
});
</script>
</body>
</html>
